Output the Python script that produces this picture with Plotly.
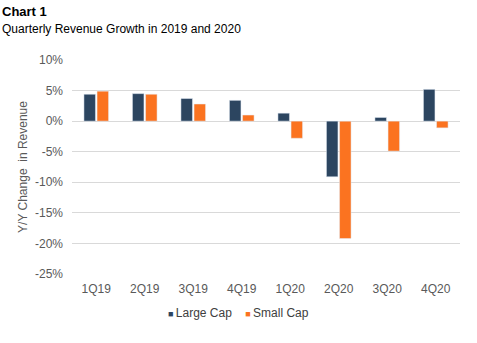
import plotly.graph_objects as go

categories = ["1Q19", "2Q19", "3Q19", "4Q19", "1Q20", "2Q20", "3Q20", "4Q20"]
large_cap = [4.4, 4.5, 3.7, 3.4, 1.3, -9.1, 0.6, 5.2]
small_cap = [4.9, 4.4, 2.8, 1.0, -2.8, -19.2, -4.9, -1.1]
series_names = ["Large Cap", "Small Cap"]
series_colors = ["#2C4560", "#FB7320"]
y_ticks = [10, 5, 0, -5, -10, -15, -20, -25]
y_tick_labels = [f"{v}%" for v in y_ticks]

fig = go.Figure()
for name, vals, col in zip(series_names, [large_cap, small_cap], series_colors):
    fig.add_trace(go.Bar(x=categories, y=vals, name=name, marker_color=col, showlegend=False))

font = "Liberation Sans, Arial, sans-serif"
plot_w, plot_h = 388, 214
fig.update_layout(
    width=477, height=343,
    margin=dict(l=72, r=17, t=60, b=69),
    paper_bgcolor="white", plot_bgcolor="white",
    barmode="group", bargap=0.46, bargroupgap=0.12,
    font=dict(family=font, size=12, color="#595959"),
)
fig.add_annotation(text="<b>Chart 1</b>", xref="paper", yref="paper",
                   x=-72/plot_w, y=1 + 58/plot_h, xanchor="left", yanchor="top", showarrow=False,
                   font=dict(family=font, size=13, color="#000000"))
fig.add_annotation(text="Quarterly Revenue Growth in 2019 and 2020", xref="paper", yref="paper",
                   x=-72/plot_w, y=1 + 40/plot_h, xanchor="left", yanchor="top", showarrow=False,
                   font=dict(family=font, size=12, color="#000000"))
legend_text = "&nbsp;&nbsp;&nbsp;&nbsp;".join(
    f"<span style='color:{c}; font-size:9px'>■</span>&#8201;{n}" for n, c in zip(series_names, series_colors)
)
fig.add_annotation(text=legend_text, xref="paper", yref="paper",
                   x=(238-72)/plot_w, y=-(313-274)/plot_h, xanchor="center", yanchor="middle",
                   showarrow=False, font=dict(family=font, size=12, color="#404040"))
fig.update_xaxes(showgrid=False, showline=False, ticks="", ticklabelstandoff=6,
                 tickfont=dict(size=12, color="#595959"))
fig.update_yaxes(range=[-25, 10], tickvals=y_ticks, ticktext=y_tick_labels,
                 showgrid=True, gridcolor="#D9D9D9", gridwidth=1,
                 zeroline=True, zerolinecolor="#D9D9D9", zerolinewidth=1,
                 showline=False, ticks="", ticklabelstandoff=8,
                 tickfont=dict(size=12, color="#595959"),
                 title=dict(text="Y/Y Change  in Revenue", standoff=4,
                            font=dict(size=12, color="#595959")))
fig.write_html("out.html")
